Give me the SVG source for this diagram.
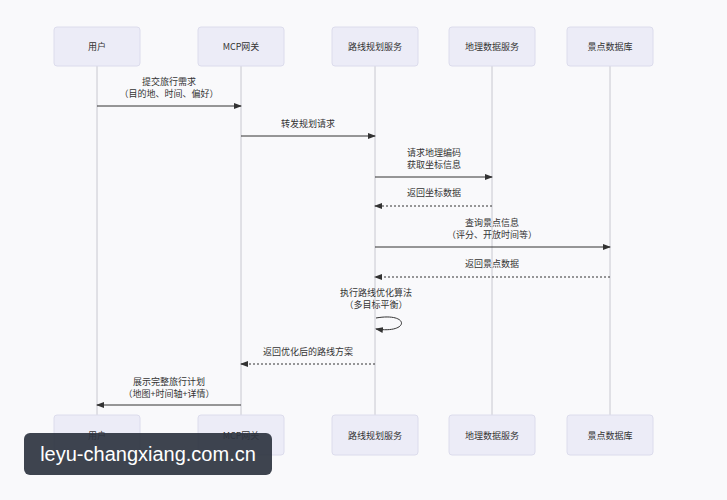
<svg xmlns="http://www.w3.org/2000/svg" width="727" height="500" viewBox="0 0 727 500">
<style>
.box{fill:#ececf7;stroke:#dcdcec;stroke-width:1}
.t{font-family:"Noto Sans CJK SC","Liberation Sans",sans-serif;font-size:9px;fill:#333;text-anchor:middle}
.life{stroke:#c8c8d0;stroke-width:1}
.m{stroke:#333;stroke-width:1;fill:none;marker-end:url(#a)}
.d{stroke-dasharray:2,2}
</style>
<defs><marker id="a" markerWidth="8" markerHeight="6" refX="7" refY="3" orient="auto" markerUnits="userSpaceOnUse"><path d="M0,0L8,3L0,6z" fill="#333"/></marker></defs>
<rect width="727" height="500" fill="#f9f9fb"/>
<g id="lifelines">
<line class="life" x1="97" y1="66" x2="97" y2="415"/><line class="life" x1="241" y1="66" x2="241" y2="415"/><line class="life" x1="375" y1="66" x2="375" y2="415"/><line class="life" x1="492" y1="66" x2="492" y2="415"/><line class="life" x1="610" y1="66" x2="610" y2="415"/>
</g>
<g id="user"><rect class="box" x="54" y="27" width="86" height="39" rx="3"/><text class="t" x="97" y="50">用户</text><rect class="box" x="54" y="415" width="86" height="40" rx="3"/><text class="t" x="97" y="439">用户</text></g>
<g id="gateway"><rect class="box" x="198" y="27" width="86" height="39" rx="3"/><text class="t" x="241" y="50">MCP网关</text><rect class="box" x="198" y="415" width="86" height="40" rx="3"/><text class="t" x="241" y="439">MCP网关</text></g>
<g id="route"><rect class="box" x="332" y="27" width="86" height="39" rx="3"/><text class="t" x="375" y="50">路线规划服务</text><rect class="box" x="332" y="415" width="86" height="40" rx="3"/><text class="t" x="375" y="439">路线规划服务</text></g>
<g id="geo"><rect class="box" x="449" y="27" width="86" height="39" rx="3"/><text class="t" x="492" y="50">地理数据服务</text><rect class="box" x="449" y="415" width="86" height="40" rx="3"/><text class="t" x="492" y="439">地理数据服务</text></g>
<g id="poi"><rect class="box" x="567" y="27" width="86" height="39" rx="3"/><text class="t" x="610" y="50">景点数据库</text><rect class="box" x="567" y="415" width="86" height="40" rx="3"/><text class="t" x="610" y="439">景点数据库</text></g>
<g id="connectors">
<line class="m" x1="97" y1="106" x2="241" y2="106"/><text class="t" x="169" y="85">提交旅行需求</text><text class="t" x="169" y="97">（目的地、时间、偏好）</text>
<line class="m" x1="241" y1="136" x2="375" y2="136"/><text class="t" x="308" y="127">转发规划请求</text>
<line class="m" x1="375" y1="177" x2="492" y2="177"/><text class="t" x="434" y="156">请求地理编码</text><text class="t" x="434" y="168">获取坐标信息</text>
<line class="m d" x1="492" y1="206" x2="375" y2="206"/><text class="t" x="434" y="196">返回坐标数据</text>
<line class="m" x1="375" y1="247" x2="610" y2="247"/><text class="t" x="492" y="226">查询景点信息</text><text class="t" x="492" y="238">（评分、开放时间等）</text>
<line class="m d" x1="610" y1="277" x2="375" y2="277"/><text class="t" x="492" y="267">返回景点数据</text>
<path class="m" d="M376,318 C410,312 410,334 376,329"/><text class="t" x="376" y="296">执行路线优化算法</text><text class="t" x="376" y="308">（多目标平衡）</text>
<line class="m d" x1="375" y1="364" x2="241" y2="364"/><text class="t" x="308" y="355">返回优化后的路线方案</text>
<line class="m" x1="241" y1="405" x2="97" y2="405"/><text class="t" x="169" y="385">展示完整旅行计划</text><text class="t" x="169" y="397">（地图+时间轴+详情）</text>
</g>
<g id="watermark"><rect x="24" y="433" width="248" height="42" rx="6" fill="#2e3440" fill-opacity="0.92"/><text x="148" y="461" font-family="Liberation Sans,sans-serif" font-size="20" fill="#fff" text-anchor="middle">leyu-changxiang.com.cn</text></g>
</svg>
